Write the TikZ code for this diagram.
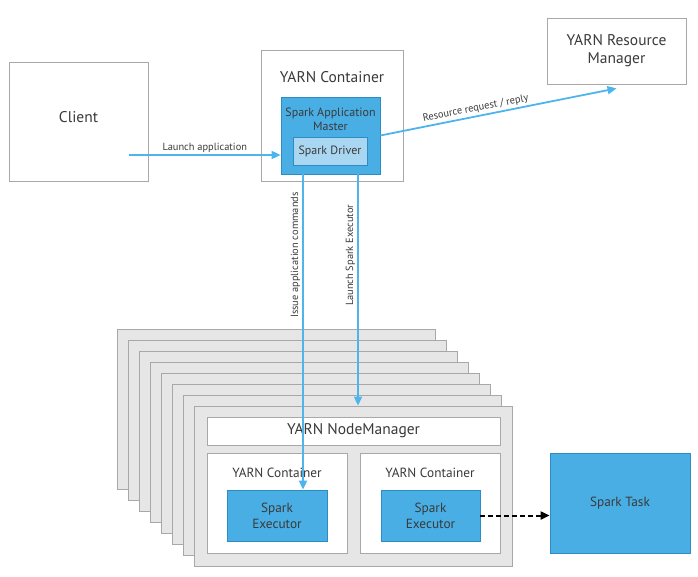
\documentclass[tikz,border=0pt]{standalone}
\usepackage{fontspec}
\setmainfont{PT Sans}
\usetikzlibrary{arrows.meta,positioning}

\definecolor{sparkblue}{HTML}{48AEE4}
\definecolor{sparkline}{HTML}{2E8CC4}
\definecolor{driverblue}{HTML}{A9D7F2}
\definecolor{arrowblue}{HTML}{4DB4EC}
\definecolor{boxgray}{HTML}{A8A8A8}
\definecolor{stackfill}{HTML}{E6E6E6}
\definecolor{txtgray}{HTML}{3A3A3A}

\tikzset{
  plainbox/.style={draw=boxgray, fill=white, line width=0.8pt, inner sep=0pt},
  stackbox/.style={draw=boxgray, fill=stackfill, line width=0.8pt, inner sep=0pt},
  bluebox/.style={draw=sparkline, fill=sparkblue, line width=0.8pt, inner sep=0pt},
  driverbox/.style={draw=sparkline, fill=driverblue, line width=0.8pt, inner sep=0pt},
  bigtxt/.style={font=\fontsize{15.5}{18}\selectfont},
  midtxt/.style={font=\fontsize{13.3}{16}\selectfont},
  smalltxt/.style={font=\fontsize{12}{14}\selectfont},
  lbl/.style={font=\fontsize{10.4}{12}\selectfont, inner sep=2pt},
  bluearrow/.style={draw=arrowblue, line width=1.8pt, -{Triangle[length=9pt,width=8pt]}},
  dasharrow/.style={draw=black, line width=2pt, dashed, dash pattern=on 5pt off 3pt, -{Triangle[length=9pt,width=8pt]}}
}

\begin{document}
\begin{tikzpicture}[x=1pt,y=-1pt,every node/.style={text=txtgray}]
  \useasboundingbox (0,0) rectangle (698,577);

  % top row
  \node (client)[plainbox,minimum width=139pt,minimum height=119pt] at (78.5,121.5) {};
  \node (clientlabel)[bigtxt] at (78.5,117) {Client};
  \node (ctr)[plainbox,minimum width=142pt,minimum height=131pt] at (332,115.5) {};
  \node (ctrlabel)[bigtxt] at (332,77) {YARN Container};
  \node (master)[bluebox,minimum width=99pt,minimum height=77pt] at (330.5,135.5) {};
  \node (masterlabel)[smalltxt,align=center] at (330.5,119) {Spark Application\\Master};
  \node (driver)[driverbox,smalltxt,minimum width=74pt,minimum height=28pt] at (330,151) {Spark Driver};
  \node (rm)[plainbox,bigtxt,align=center,minimum width=139pt,minimum height=66pt] at (616.5,51) {YARN Resource\\Manager};

  % stack of node managers
  \foreach \i in {0,...,7}
    \node (nm\i)[stackbox,minimum width=318pt,minimum height=160pt] at ({276+11*\i},{409+11*\i}) {};

  \node (nmbar)[plainbox,bigtxt,minimum width=293pt,minimum height=28pt] at (353.5,431) {YARN NodeManager};
  \node (ctr1)[plainbox,minimum width=140pt,minimum height=100pt] at (277,503) {};
  \node (ctr2)[plainbox,minimum width=140pt,minimum height=100pt] at (430,503) {};
  \node (ctr1label)[midtxt] at (277,473) {YARN Container};
  \node (ctr2label)[midtxt] at (430,473) {YARN Container};
  \node (exec1)[bluebox,midtxt,align=center,minimum width=100pt,minimum height=51pt] at (277,515.5) {Spark\\Executor};
  \node (exec2)[bluebox,midtxt,align=center,minimum width=99pt,minimum height=51pt] at (430.5,515.5) {Spark\\Executor};
  \node (task)[bluebox,midtxt,minimum width=140pt,minimum height=100pt] at (620,503) {Spark Task};

  % connectors
  \coordinate (launchstart) at (129,155);
  \coordinate (issue) at (303,0);
  \coordinate (launchx) at (358,0);

  \draw[bluearrow] (launchstart) -- (launchstart -| master.west)
    node[midway,above,lbl] {Launch application};
  \draw[bluearrow] (master.east) -- ([yshift=-4pt]rm.south)
    node[pos=0.41,above,sloped,lbl] {Resource request / reply};
  \draw[bluearrow] (issue |- master.south) -- (issue |- exec1.north)
    node[pos=0.256,rotate=90,anchor=south,lbl] {Issue application commands};
  \draw[bluearrow] (launchx |- master.south) -- (launchx |- nm7.north)
    node[pos=0.35,rotate=90,anchor=south,lbl] {Launch Spark Executor};
  \draw[dasharrow] (exec2.east) -- (exec2.east -| task.west);

\end{tikzpicture}
\end{document}
